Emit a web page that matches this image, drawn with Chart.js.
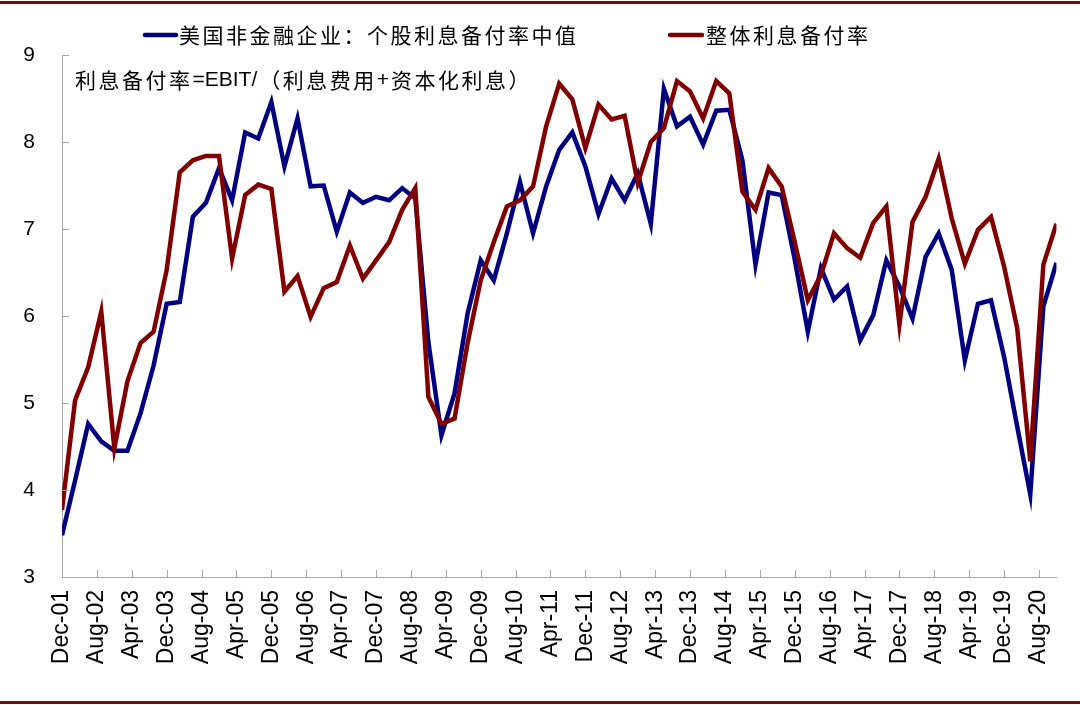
<!DOCTYPE html>
<html>
<head>
<meta charset="utf-8">
<script src="https://cdn.jsdelivr.net/npm/chart.js@4.4.1/dist/chart.umd.min.js"></script>
<style>
  html, body { margin: 0; padding: 0; background: #fff; }
  #wrap { width: 1080px; height: 705px; position: relative; }
</style>
</head>
<body>
<div id="wrap"><canvas id="c" width="1080" height="705"></canvas></div>
<script>
// ---- data ----
const quarters = [
  "Dec-01","Mar-02","Jun-02","Sep-02","Dec-02","Mar-03","Jun-03","Sep-03","Dec-03",
  "Mar-04","Jun-04","Sep-04","Dec-04","Mar-05","Jun-05","Sep-05","Dec-05",
  "Mar-06","Jun-06","Sep-06","Dec-06","Mar-07","Jun-07","Sep-07","Dec-07",
  "Mar-08","Jun-08","Sep-08","Dec-08","Mar-09","Jun-09","Sep-09","Dec-09",
  "Mar-10","Jun-10","Sep-10","Dec-10","Mar-11","Jun-11","Sep-11","Dec-11",
  "Mar-12","Jun-12","Sep-12","Dec-12","Mar-13","Jun-13","Sep-13","Dec-13",
  "Mar-14","Jun-14","Sep-14","Dec-14","Mar-15","Jun-15","Sep-15","Dec-15",
  "Mar-16","Jun-16","Sep-16","Dec-16","Mar-17","Jun-17","Sep-17","Dec-17",
  "Mar-18","Jun-18","Sep-18","Dec-18","Mar-19","Jun-19","Sep-19","Dec-19",
  "Mar-20","Jun-20","Sep-20","Dec-20"
];
const medianICR = [
  3.48, 4.11, 4.76, 4.56, 4.45, 4.45, 4.88, 5.43, 6.14,
  6.16, 7.14, 7.30, 7.70, 7.33, 8.11, 8.04, 8.46,
  7.72, 8.27, 7.49, 7.50, 6.97, 7.42, 7.30, 7.37,
  7.33, 7.47, 7.35, 5.70, 4.63, 5.11, 6.03, 6.64,
  6.41, 6.95, 7.54, 6.95, 7.49, 7.91, 8.11, 7.72,
  7.17, 7.58, 7.33, 7.64, 7.06, 8.61, 8.18, 8.29,
  7.97, 8.36, 8.37, 7.79, 6.59, 7.42, 7.39, 6.65,
  5.82, 6.55, 6.19, 6.34, 5.72, 6.01, 6.64, 6.34,
  5.97, 6.68, 6.95, 6.53, 5.49, 6.14, 6.18, 5.53,
  4.73, 3.95, 6.11, 6.61
];
const totalICR = [
  3.77, 5.03, 5.41, 6.05, 4.48, 5.25, 5.69, 5.82, 6.53,
  7.65, 7.79, 7.84, 7.84, 6.66, 7.39, 7.51, 7.46,
  6.28, 6.46, 5.99, 6.32, 6.39, 6.81, 6.43, 6.64,
  6.85, 7.22, 7.47, 5.07, 4.76, 4.82, 5.69, 6.41,
  6.85, 7.26, 7.33, 7.49, 8.18, 8.67, 8.49, 7.93,
  8.43, 8.26, 8.30, 7.53, 8.00, 8.16, 8.70, 8.58,
  8.27, 8.70, 8.56, 7.43, 7.22, 7.70, 7.49, 6.85,
  6.18, 6.47, 6.95, 6.78, 6.67, 7.07, 7.26, 5.90,
  7.08, 7.37, 7.81, 7.12, 6.60, 6.99, 7.14, 6.57,
  5.86, 4.33, 6.59, 7.06
];
const tickLabels = [
  "Dec-01","Aug-02","Apr-03","Dec-03","Aug-04","Apr-05","Dec-05","Aug-06",
  "Apr-07","Dec-07","Aug-08","Apr-09","Dec-09","Aug-10","Apr-11","Dec-11",
  "Aug-12","Apr-13","Dec-13","Aug-14","Apr-15","Dec-15","Aug-16","Apr-17",
  "Dec-17","Aug-18","Apr-19","Dec-19","Aug-20"
];
const yTicks = [3, 4, 5, 6, 7, 8, 9];
const seriesNames = ["美国非金融企业：个股利息备付率中值", "整体利息备付率"];
const noteText = "利息备付率=EBIT/（利息费用+资本化利息）";

// ---- helpers ----
const MONTHS = {Jan:1,Feb:2,Mar:3,Apr:4,May:5,Jun:6,Jul:7,Aug:8,Sep:9,Oct:10,Nov:11,Dec:12};
function monthIndex(lbl) {
  const [m, yy] = lbl.split("-");
  return (2000 + parseInt(yy, 10)) * 12 + MONTHS[m] - (2001 * 12 + 12);
}
const lastMonth = monthIndex(quarters[quarters.length - 1]);
const tickMap = {};
tickLabels.forEach(l => { tickMap[monthIndex(l)] = l; });

const BLUE = "#000080";
const RED = "#800000";
const AXIS = "#a6a6a6";
const BORDER = "#7a0a0a";

// draw mixed text: CJK runs spaced, latin runs tight
function drawMixed(ctx, text, x, y) {
  const runs = text.match(/[\u0000-\u00ff]+|[^\u0000-\u00ff]+/g) || [];
  let cx = x;
  runs.forEach(r => {
    const latin = /^[\u0000-\u00ff]/.test(r);
    if ("letterSpacing" in ctx) ctx.letterSpacing = latin ? "0px" : "2.5px";
    ctx.font = latin ? '21px "Liberation Sans", Arial' : '21px "Noto Sans CJK SC"';
    ctx.fillText(r, cx, y);
    cx += ctx.measureText(r).width + (latin ? 2 : 0);
  });
}

const decor = {
  id: "decor",
  beforeDraw(chart) {
    const ctx = chart.ctx;
    ctx.save();
    ctx.fillStyle = "#fff";
    ctx.fillRect(0, 0, chart.width, chart.height);
    ctx.fillStyle = BORDER;
    ctx.fillRect(0, 1, chart.width, 3);
    ctx.fillRect(0, 701, chart.width, 3);
    ctx.restore();
  },
  afterDraw(chart) {
    const { ctx, chartArea: a, scales: { x, y } } = chart;
    ctx.save();
    // inside tick marks
    ctx.strokeStyle = AXIS;
    ctx.lineWidth = 1;
    ctx.beginPath();
    x.ticks.forEach(t => {
      const px = Math.round(x.getPixelForValue(t.value)) + 0.5;
      ctx.moveTo(px, a.bottom);
      ctx.lineTo(px, a.bottom - 7);
    });
    y.ticks.forEach(t => {
      const py = Math.round(y.getPixelForValue(t.value)) + 0.5;
      ctx.moveTo(a.left, py);
      ctx.lineTo(a.left + 7, py);
    });
    ctx.stroke();

    // legend
    const items = [
      { x0: 145, x1: 176, tx: 179 },
      { x0: 670, x1: 702, tx: 706 }
    ];
    ctx.textBaseline = "middle";
    ctx.textAlign = "left";
    ctx.fillStyle = "#000";
    ctx.font = '21px "Noto Sans CJK SC"';
    if ("letterSpacing" in ctx) ctx.letterSpacing = "2.5px";
    chart.data.datasets.forEach((ds, i) => {
      const it = items[i];
      ctx.strokeStyle = ds.borderColor;
      ctx.lineWidth = 4.5;
      ctx.lineCap = "round";
      ctx.beginPath();
      ctx.moveTo(it.x0, 35);
      ctx.lineTo(it.x1, 35);
      ctx.stroke();
      ctx.fillText(ds.label, it.tx, 35);
    });

    // formula note
    drawMixed(ctx, noteText, 75, 80);
    ctx.restore();
  }
};

new Chart(document.getElementById("c"), {
  type: "line",
  data: {
    datasets: [
      {
        label: seriesNames[0],
        data: quarters.map((q, i) => ({ x: monthIndex(q), y: medianICR[i] })),
        borderColor: BLUE,
        backgroundColor: BLUE,
        borderWidth: 4.5,
        pointRadius: 0,
        tension: 0,
        order: 2
      },
      {
        label: seriesNames[1],
        data: quarters.map((q, i) => ({ x: monthIndex(q), y: totalICR[i] })),
        borderColor: RED,
        backgroundColor: RED,
        borderWidth: 4.5,
        pointRadius: 0,
        tension: 0,
        order: 1
      }
    ]
  },
  options: {
    responsive: false,
    animation: false,
    layout: { padding: { top: 55, left: 0, right: 23, bottom: 0 } },
    plugins: {
      legend: { display: false },
      tooltip: { enabled: false }
    },
    scales: {
      x: {
        type: "linear",
        min: 0,
        max: lastMonth,
        afterFit(s) { s.height = 128; },
        afterBuildTicks(s) { s.ticks = tickLabels.map(l => ({ value: monthIndex(l) })); },
        grid: { display: true, drawOnChartArea: false, drawTicks: false },
        border: { display: true, color: AXIS, width: 1 },
        ticks: {
          autoSkip: false,
          minRotation: 90,
          maxRotation: 90,
          padding: 13,
          color: "#000",
          font: { family: '"Liberation Sans", Arial, sans-serif', size: 23 },
          callback: v => tickMap[v] || ""
        }
      },
      y: {
        min: 3,
        max: 9,
        afterFit(s) { s.width = 62; },
        afterBuildTicks(s) { s.ticks = yTicks.map(v => ({ value: v })); },
        grid: { display: true, drawOnChartArea: false, drawTicks: false },
        border: { display: true, color: AXIS, width: 1 },
        ticks: {
          padding: 27,
          color: "#000",
          font: { family: '"Liberation Sans", Arial, sans-serif', size: 21 }
        }
      }
    }
  },
  plugins: [decor]
});
</script>
</body>
</html>
